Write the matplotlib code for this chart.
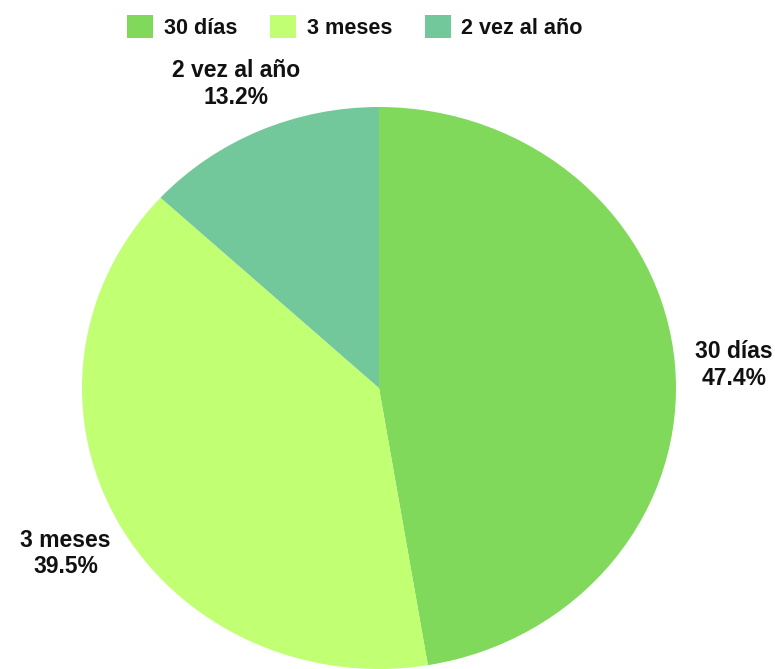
import matplotlib
matplotlib.use("Agg")
import matplotlib.pyplot as plt
import matplotlib.transforms as mtransforms
import numpy as np

labels = ["30 días", "3 meses", "2 vez al año"]
values = [18, 15, 5]
colors = ["#80D95B", "#C1FF73", "#72C89A"]

plt.rcParams['font.family'] = ['Liberation Sans', 'DejaVu Sans']

W, H = 775, 669
fig = plt.figure(figsize=(W / 100, H / 100), dpi=100)
# pie ellipse occupies x 82..676, y 107..669 (pixels)
ax = fig.add_axes([82 / W, 0 / H, 594 / W, 562 / H])
wedges, _ = ax.pie(values, colors=colors, startangle=90, counterclock=False,
                   radius=1, wedgeprops=dict(linewidth=0))
ax.set_aspect('auto')
ax.set_xlim(-1, 1)
ax.set_ylim(-1, 1)
ax.axis('off')

trans = mtransforms.offset_copy(ax.transData, fig=fig, x=0, y=-5, units='dots')
total = sum(values)
for w, lab, v in zip(wedges, labels, values):
    ang = np.deg2rad((w.theta1 + w.theta2) / 2)
    r = 1.2
    ax.text(r * np.cos(ang), r * np.sin(ang), f"{lab}\n{100 * v / total:.1f}%",
            ha='center', va='center', fontsize=16.5, fontweight='bold',
            color='#111111', linespacing=1.2, clip_on=False, transform=trans)

leg = fig.legend(wedges, labels, loc='center', ncol=3,
                 bbox_to_anchor=(355 / W, 1 - 27 / H), frameon=False,
                 prop=dict(size=15.6, weight='bold'),
                 handlelength=1.2, handleheight=1.2, handletextpad=0.5,
                 columnspacing=1.5)
for t in leg.get_texts():
    t.set_color('#111111')

fig.savefig("out.png", dpi=100)
